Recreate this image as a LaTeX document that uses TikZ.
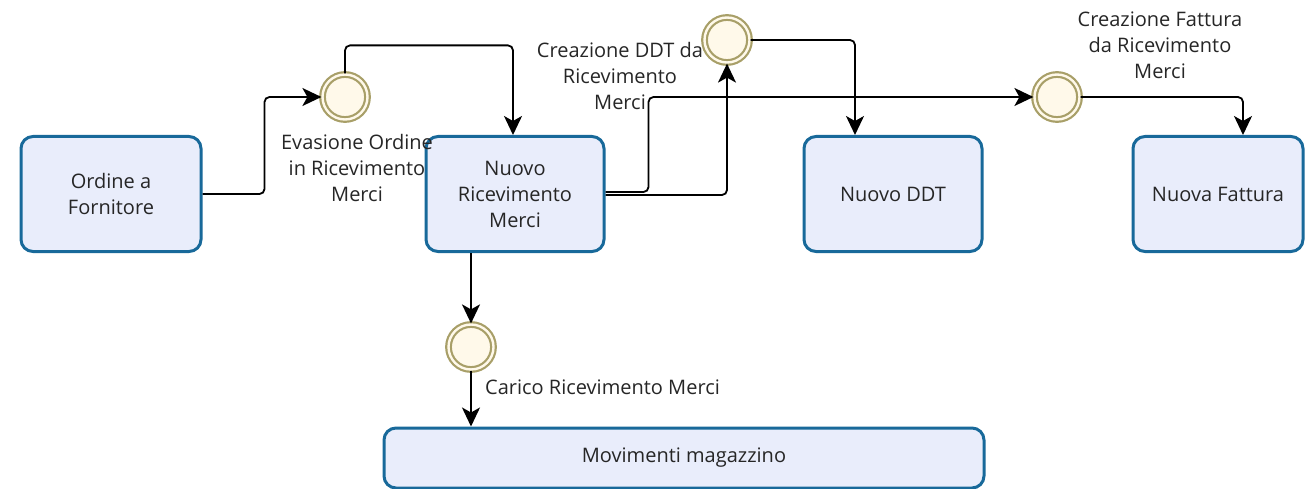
\documentclass[tikz,border=0pt]{standalone}
\usepackage{fontspec}
\setmainfont{Open Sans}
\usepackage{tikz}
\usetikzlibrary{positioning}
\usetikzlibrary{arrows.meta,shapes}
\usetikzlibrary{calc}
\definecolor{taskline}{HTML}{18699A}
\definecolor{taskfill}{HTML}{E9EDFB}
\definecolor{eventline}{HTML}{A89F68}
\definecolor{eventfill}{HTML}{FFF9EA}
\tikzstyle{task}=[rectangle,rounded corners=12pt,draw=taskline,fill=taskfill,line width=3pt,align=center,text=black!85]
\tikzstyle{event}=[circle,draw=eventline,fill=eventfill,line width=2.2pt,double=eventfill,double distance=2.4pt,minimum size=45pt,inner sep=0pt]
\tikzstyle{flow} = [draw,line width=1.8pt,rounded corners=5pt,-{Stealth[length=19pt,width=18pt,inset=5pt]}]
\tikzstyle{evlabel} = [align=center,text=black!85,inner sep=0pt]

\begin{document}
\begin{tikzpicture}[x=1pt,y=-1pt,font=\fontsize{20}{26}\selectfont]
  \useasboundingbox (0,0) rectangle (1306,489);

   \foreach \pos/\name/\bw/\bh/\txt in {{(111,194)/of/180/115/Ordine a\\Fornitore}, {(515,194)/nr/178/115/Nuovo\\Ricevimento\\Merci}, {(893,194)/nd/178/115/Nuovo DDT}, {(1218,194)/nf/170/115/Nuova Fattura}, {(684,458)/mm/600/60/Movimenti magazzino}}
        \node[task,minimum width=\bw pt,minimum height=\bh pt] (\name) at \pos {\txt};

   \foreach \pos/\name in {{(345,97)/e1}, {(727,40)/e2}, {(1057,97)/e3}, {(471,347)/e4}}
        \node[event] (\name) at \pos {};

   % event labels
   \node[evlabel] (l1) at (357,168) {Evasione Ordine\\in Ricevimento\\Merci};
   \node[evlabel] (l2) at (620,76) {Creazione DDT da\\Ricevimento\\Merci};
   \node[evlabel] (l3) at (1160,45) {Creazione Fattura\\da Ricevimento\\Merci};
   \node[evlabel,anchor=west] (l4) at (485,387) {Carico Ricevimento Merci};

   % sequence flows
   \path[flow] (of.east) -- ++(62,0) |- (e1.west);
   \path[flow] (e1.north) -- ++(0,-28) -| ([xshift=-2pt]nr.north);
   \path[flow] ([yshift=2pt]nr.east) -- ++(43,0) |- (e3.west);
   \path[flow] ([yshift=-1pt]nr.east) -| (e2.south);
   \path[flow] (e2.east) -| ([xshift=-38pt]nd.north);
   \path[flow] (e3.east) -| ([xshift=25pt]nf.north);
   \path[flow] (e4.north |- nr.south) -- (e4.north);
   \path[flow] (e4.south) -- (e4.south |- mm.north);

\end{tikzpicture}
\end{document}
